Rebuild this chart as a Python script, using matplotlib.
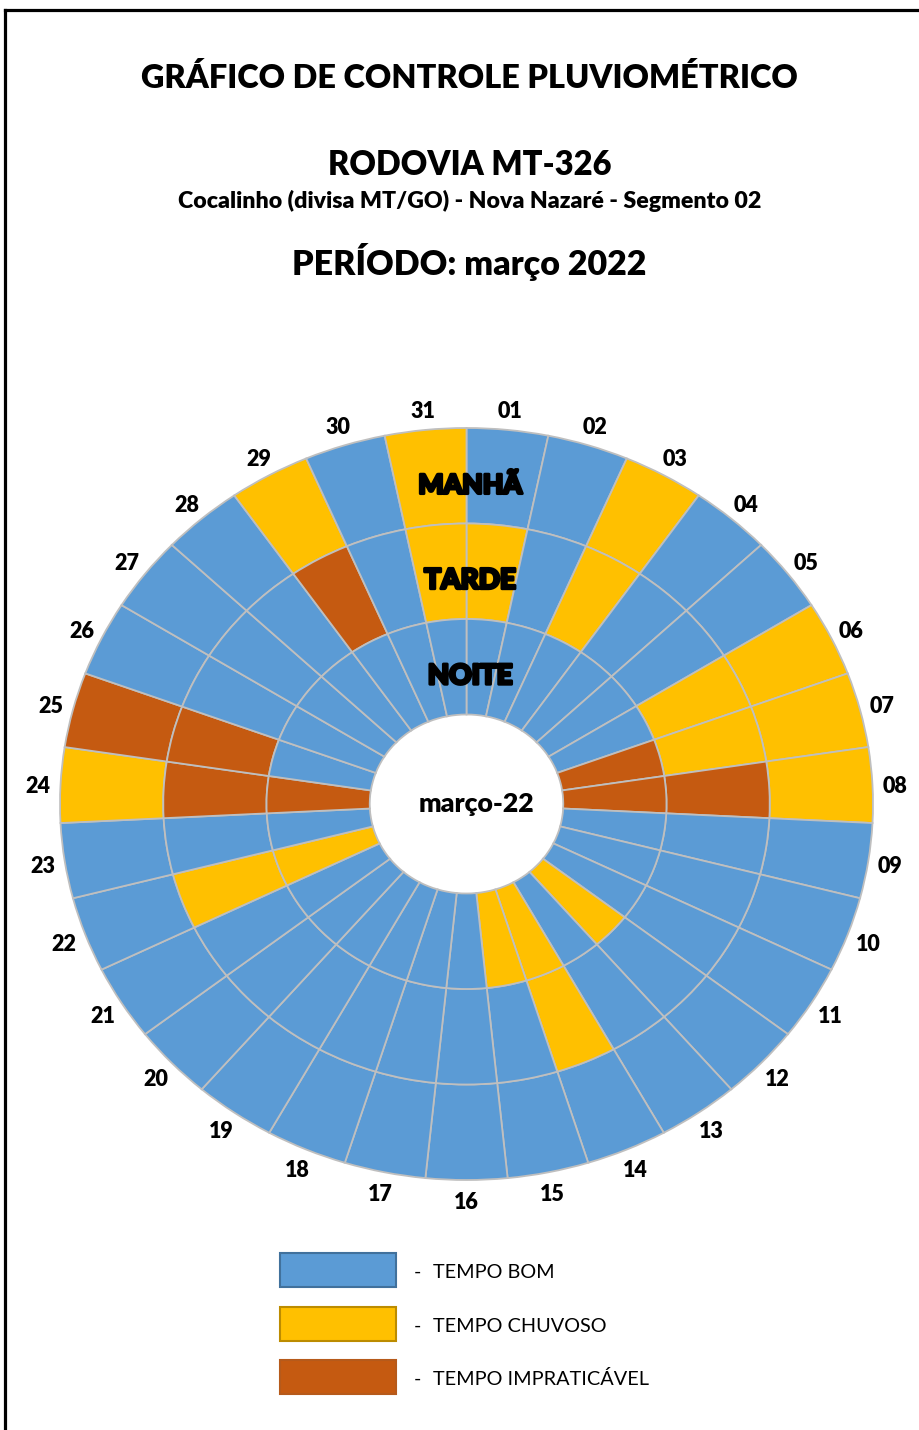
import numpy as np
import matplotlib
matplotlib.use("Agg")
import matplotlib.pyplot as plt
import matplotlib.patheffects as pe
from matplotlib.patches import Rectangle

plt.rcParams['font.family'] = ['Lato', 'DejaVu Sans']

# ---------------- data ----------------
days = ['%02d' % d for d in range(1, 32)]
# 0 = TEMPO BOM, 1 = TEMPO CHUVOSO, 2 = TEMPO IMPRATICÁVEL
manha = [0, 0, 1, 0, 0, 1, 1, 1,
         0, 0, 0, 0, 0, 0, 0, 0,
         0, 0, 0, 0, 0, 0, 0, 1,
         2, 0, 0, 0, 1, 0, 1]
tarde = [1, 0, 1, 0, 0, 1, 1, 2,
         0, 0, 0, 0, 0, 1, 0, 0,
         0, 0, 0, 0, 0, 1, 0, 2,
         2, 0, 0, 0, 2, 0, 1]
noite = [0, 0, 0, 0, 0, 0, 2, 2,
         0, 0, 0, 1, 0, 1, 1, 0,
         0, 0, 0, 0, 0, 1, 0, 2,
         0, 0, 0, 0, 0, 0, 0]
ring_names = ['MANHÃ', 'TARDE', 'NOITE']
legend_labels = ['TEMPO BOM', 'TEMPO CHUVOSO', 'TEMPO IMPRATICÁVEL']
center_label = 'março-22'

palette = ['#5B9BD5', '#FFC000', '#C55A11']
legend_edges = ['#41719C', '#BC8C00', '#B65A1B']

W, H = 919, 1430
fig = plt.figure(figsize=(W / 100, H / 100), dpi=100)
renderer = fig.canvas.get_renderer()


def fit(t, target):
    w = t.get_window_extent(renderer).width
    t.set_fontsize(t.get_fontsize() * target / w)


TW = 'heavy'   # weight used for bold headings

# ---------------- overlay (titles, legend, frame) ----------------
ov = fig.add_axes([0, 0, 1, 1])
ov.set_xlim(0, W)
ov.set_ylim(H, 0)
ov.axis('off')

ov.plot([5.3, 5.3], [H + 5, 9.8], color='black', lw=2.3, solid_capstyle='projecting')
ov.plot([5.3, W + 5], [9.8, 9.8], color='black', lw=2.3, solid_capstyle='projecting')

cx = 469.5
t = ov.text(cx, 88, 'GRÁFICO DE CONTROLE PLUVIOMÉTRICO', ha='center', va='baseline',
            fontsize=22, fontweight=TW)
fit(t, 655)
t = ov.text(cx, 175, 'RODOVIA MT-326', ha='center', va='baseline', fontsize=22, fontweight=TW)
fit(t, 283)
t = ov.text(cx, 208, 'Cocalinho (divisa MT/GO) - Nova Nazaré - Segmento 02', ha='center',
            va='baseline', fontsize=15, fontweight=TW)
fit(t, 586)
t = ov.text(cx, 275, 'PERÍODO: março 2022', ha='center', va='baseline', fontsize=22,
            fontweight=TW)
fit(t, 353)

leg_size = None
for i, lab in enumerate(legend_labels):
    y0 = 1253 + i * 53.5
    ov.add_patch(Rectangle((280, y0), 116, 34, facecolor=palette[i],
                           edgecolor=legend_edges[i], lw=1.5))
    ov.text(414, y0 + 25, '-', ha='left', va='baseline', fontsize=14, color='black')
    tt = ov.text(433, y0 + 25, lab, ha='left', va='baseline', fontsize=14, color='black')
    if lab == 'TEMPO IMPRATICÁVEL':
        fit(tt, 216)
        leg_size = tt.get_fontsize()
for tx in ov.texts:
    if tx.get_text() in legend_labels:
        tx.set_fontsize(leg_size)

# ---------------- doughnut ----------------
cx_px, cy_px, rx, ry = 466.5, 804, 406.5, 376
ax = fig.add_axes([(cx_px - rx) / W, (H - cy_px - ry) / H, 2 * rx / W, 2 * ry / H])
width = 0.254
radii = [1.0, 1.0 - width, 1.0 - 2 * width]
outer_wedges = None
for r, ring in zip(radii, [manha, tarde, noite]):
    wedges, _ = ax.pie(np.ones(len(ring)), radius=r, colors=[palette[c] for c in ring],
                       startangle=90, counterclock=False,
                       wedgeprops=dict(width=width, edgecolor='#BFBFBF', linewidth=1.3))
    for w in wedges:
        w.set_clip_on(False)
    if outer_wedges is None:
        outer_wedges = wedges
ax.set_aspect('auto')
ax.set_xlim(-1, 1)
ax.set_ylim(-1, 1)
ax.axis('off')

for w, lab in zip(outer_wedges, days):
    mid = np.deg2rad((w.theta1 + w.theta2) / 2)
    ax.text(1.055 * np.cos(mid), 1.055 * np.sin(mid) - 0.006, lab, ha='center', va='center',
            fontsize=15.5, fontweight=TW, clip_on=False)

ring_mids = [r - width / 2 for r in radii]
ring_targets = [104, 92, 85]
for name, rm, tw in zip(ring_names, ring_mids, ring_targets):
    t = ax.text(0.009, rm - 0.025, name, ha='center', va='center', fontweight='black',
                family=['Lato', 'DejaVu Sans'], color='black',
                path_effects=[pe.withStroke(linewidth=2.2, foreground='black')])
    t.set_fontsize(16)
    fit(t, tw)

t = ax.text(0.025, 0.0, center_label, ha='center', va='center', fontsize=17, fontweight=TW)
fit(t, 116)

fig.savefig('out.png', dpi=100)
